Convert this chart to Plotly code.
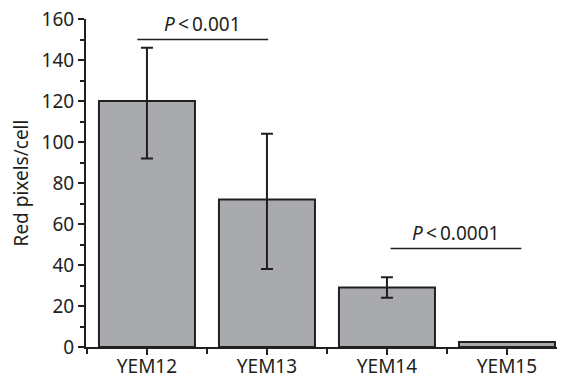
import plotly.graph_objects as go

categories = ["YEM12", "YEM13", "YEM14", "YEM15"]
values = [120, 72, 29, 2.5]
err_plus = [26, 32, 5, 0]
err_minus = [28, 34, 5, 0]
y_ticks = [0, 20, 40, 60, 80, 100, 120, 140, 160]

sig_labels = ["<i>P</i>\u2009&lt;\u20090.001", "<i>P</i>\u2009&lt;\u20090.0001"]
sig_x0 = [-0.08, 2.03]
sig_x1 = [1.01, 3.12]
sig_y = [150, 48]

FONT = "Noto Sans"
DARK = "#231f20"

xpos = list(range(len(categories)))

fig = go.Figure()
fig.add_trace(go.Bar(
    x=xpos, y=values, width=0.8,
    marker=dict(color="#a9aaad", line=dict(color=DARK, width=2)),
    error_y=dict(type="data", symmetric=False, array=err_plus, arrayminus=err_minus,
                 color=DARK, thickness=2, width=6,
                 visible=True),
    showlegend=False,
))

for lab, x0, x1, y in zip(sig_labels, sig_x0, sig_x1, sig_y):
    fig.add_shape(type="line", x0=x0, x1=x1, y0=y, y1=y, xref="x", yref="y",
                  line=dict(color=DARK, width=1.5))
    fig.add_annotation(x=(x0 + x1) / 2, y=y, xref="x", yref="y", text=lab,
                       showarrow=False, yanchor="bottom", yshift=1,
                       font=dict(family=FONT, size=19, color=DARK))

# page body has an 8px margin, so the figure is offset by (8, 8)
fig.update_layout(
    width=559, height=371,
    margin=dict(l=78, r=10, t=11, b=32),
    plot_bgcolor="white", paper_bgcolor="white",
    bargap=0.2,
    font=dict(family=FONT, size=19, color=DARK),
)
fig.update_xaxes(
    range=[-0.508, 3.417], tickmode="array", tickvals=xpos, ticktext=categories,
    showline=True, linecolor=DARK, linewidth=2, showgrid=False, zeroline=False,
    ticks="outside", ticklen=6, tickwidth=2, tickcolor=DARK,
    tickfont=dict(family=FONT, size=19, color=DARK), automargin=False,
    ticklabeloverflow="allow", ticklabelstandoff=-5,
    minor=dict(tickmode="linear", tick0=0.5, dtick=1, ticks="outside", ticklen=5,
               tickwidth=2, tickcolor=DARK, showgrid=False),
)
fig.update_yaxes(
    range=[0, 160.01], tickmode="array", tickvals=y_ticks,
    showline=True, linecolor=DARK, linewidth=2, showgrid=False, zeroline=False,
    ticks="outside", ticklen=6, tickwidth=2, tickcolor=DARK,
    tickfont=dict(family=FONT, size=19, color=DARK), automargin=False,
    ticklabeloverflow="allow",
    minor=dict(tickmode="linear", tick0=10, dtick=20, ticks="outside", ticklen=4,
               tickwidth=1.5, tickcolor=DARK, showgrid=False),
    title=dict(text="Red pixels/cell", font=dict(family=FONT, size=19, color=DARK),
               standoff=12),
)

fig.write_html("out.html")
